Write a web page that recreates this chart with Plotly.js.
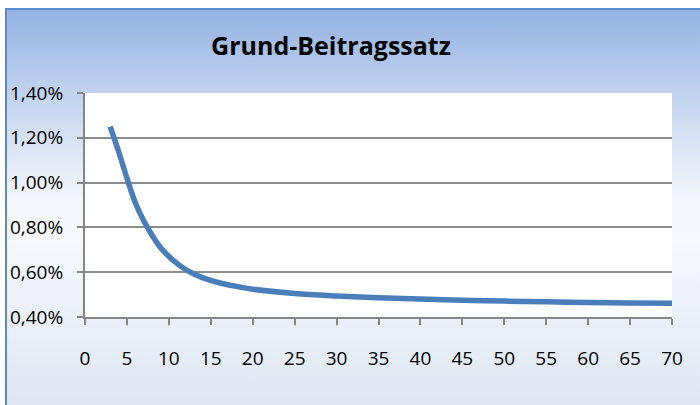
<!DOCTYPE html>
<html>
<head>
<meta charset="utf-8">
<script src="https://cdn.plot.ly/plotly-3.0.1.min.js"></script>
<style>
  html, body { margin: 0; padding: 0; background: #ffffff; width: 700px; height: 405px; overflow: hidden; }
  #frame {
    position: absolute; left: 5px; top: 8px; width: 720px; height: 420px;
    border-top: 2px solid #5a89cf; border-left: 2px solid #5a89cf;
    background: linear-gradient(to bottom, #94b2e2 0%, #c6d6ef 22%, #f3f6fb 45%, #f6f8fc 55%, #e9eef7 78%, #dce4f1 100%);
  }
  #chart { position: absolute; left: 0; top: 0; width: 700px; height: 405px; }
</style>
</head>
<body>
<div id="frame"></div>
<div id="chart"></div>
<script>
const chartTitle = 'Grund-Beitragssatz';
const years = [3, 4, 5, 6, 7, 8, 9, 10, 11, 12, 13, 14, 16, 18, 20, 25, 30, 35, 40, 45, 50, 55, 60, 65, 70];
const rates = [0.0125, 0.0114, 0.0102, 0.0091, 0.0083, 0.00765, 0.0071, 0.0067, 0.00638, 0.00612, 0.00592, 0.00576, 0.00553, 0.00537, 0.00524, 0.00505, 0.00494, 0.00486, 0.0048, 0.00475, 0.00471, 0.00468, 0.00465, 0.00463, 0.00461];
const yTicks = [0.004, 0.006, 0.008, 0.010, 0.012, 0.014];
const xTicks = [0, 5, 10, 15, 20, 25, 30, 35, 40, 45, 50, 55, 60, 65, 70];

const trace = {
  x: years, y: rates, type: 'scatter', mode: 'lines',
  line: { color: '#4a7ebb', width: 5.5, shape: 'spline', smoothing: 1 },
  hoverinfo: 'skip'
};

const font = 'Open Sans, Noto Sans, sans-serif';
const layout = {
  width: 700, height: 405,
  margin: { l: 85, r: 28, t: 93, b: 88 },
  paper_bgcolor: 'rgba(0,0,0,0)',
  plot_bgcolor: '#ffffff',
  separators: ',.',
  showlegend: false,
  title: {
    text: '<b>' + chartTitle + '</b>',
    font: { family: font, size: 25, color: '#000000' },
    x: 331 / 700, xref: 'container', xanchor: 'center',
    y: 1 - 46 / 405, yref: 'container', yanchor: 'middle'
  },
  xaxis: {
    range: [0, 70], tickvals: xTicks, ticktext: xTicks.map(String),
    showgrid: false, zeroline: false,
    showline: true, linecolor: '#868686', linewidth: 2,
    ticks: 'outside', ticklen: 6, tickwidth: 2, tickcolor: '#868686',
    ticklabelstandoff: 17,
    tickfont: { family: font, size: 19, color: '#000000' },
    fixedrange: true
  },
  yaxis: {
    range: [0.004, 0.014], tickvals: yTicks, tickformat: '.2%',
    showgrid: true, gridcolor: '#8c8c8c', gridwidth: 2,
    zeroline: false,
    showline: true, linecolor: '#868686', linewidth: 2,
    ticks: 'outside', ticklen: 6, tickwidth: 2, tickcolor: '#868686',
    ticklabelstandoff: 10,
    tickfont: { family: font, size: 19, color: '#000000' },
    fixedrange: true
  }
};

Plotly.newPlot('chart', [trace], layout, { displayModeBar: false, staticPlot: true });
</script>
</body>
</html>
